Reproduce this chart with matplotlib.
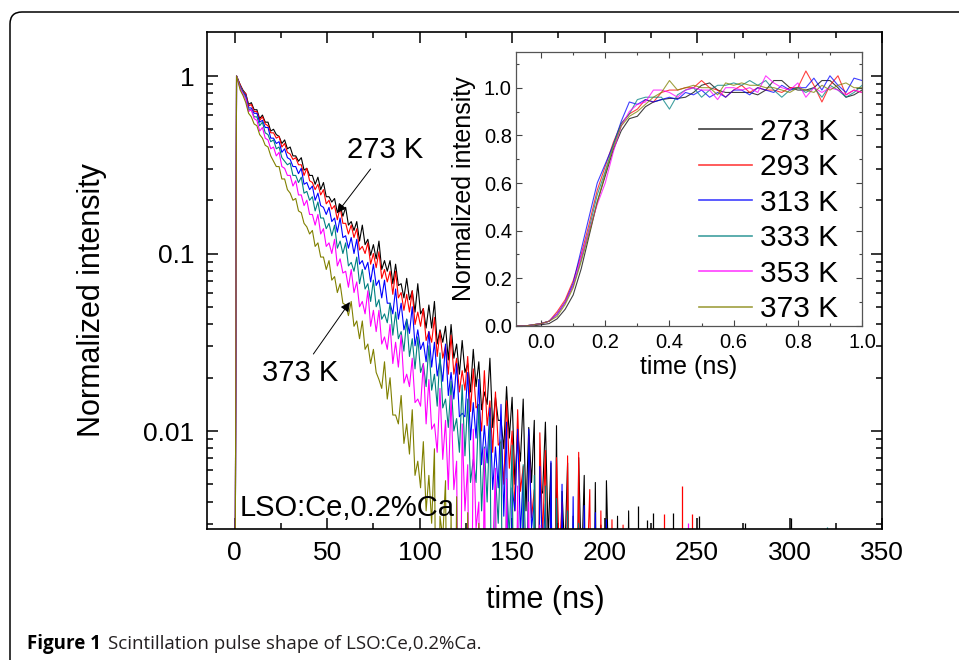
import numpy as np
import matplotlib
matplotlib.use("Agg")
from matplotlib import pyplot as plt
from matplotlib import ticker
from matplotlib.patches import FancyBboxPatch

plt.rcParams['font.family'] = ['Liberation Sans', 'DejaVu Sans']

# temperatures / colours of the six pulse shapes
labels = ['273 K', '293 K', '313 K', '333 K', '353 K', '373 K']
colors = ['#000000', '#ff0000', '#0000ff', '#008080', '#ff00ff', '#808000']

# main plot: time axis (ns) of the upper edge of each noisy trace
t_ns = [0, 1, 3, 6, 9, 12, 15, 18, 21, 24,
        27, 30, 33, 36, 39, 42, 45, 48, 51, 54,
        57, 60, 63, 66, 69, 72, 75, 78, 81, 84,
        87, 90, 93, 96, 99, 102, 105, 108, 111, 114,
        117, 120, 123, 126, 129, 132, 135, 138, 141, 144,
        147, 150, 153, 156, 159, 162, 165, 168, 171, 174,
        177, 180, 183, 186, 189, 192, 195, 198, 201, 204,
        207, 210, 213, 216, 219, 222, 225, 228, 231, 234, 237, 240]
# time axis (ns) of the lower edge of each noisy trace
t_lo = [4.5, 7.5, 10.5, 13.5, 16.5, 19.5, 22.5, 25.5, 28.5, 31.5,
        34.5, 37.5, 40.5, 43.5, 46.5, 49.5, 52.5, 55.5, 58.5, 61.5,
        64.5, 67.5, 70.5, 73.5, 76.5, 79.5, 82.5, 85.5, 88.5, 91.5,
        94.5, 97.5, 100.5, 103.5, 106.5, 109.5, 112.5, 115.5, 118.5, 121.5,
        124.5, 127.5, 130.5, 133.5, 136.5, 139.5, 142.5, 145.5, 148.5, 151.5,
        154.5, 157.5, 160.5, 163.5, 166.5, 169.5, 172.5, 175.5, 178.5, 181.5,
        184.5, 187.5, 190.5, 193.5, 196.5, 199.5, 202.5, 205.5, 208.5, 211.5,
        214.5, 217.5, 220.5, 223.5, 226.5, 229.5, 232.5, 235.5, 238.5]

# log10 of normalized intensity, upper side of the noise band (-4 = below axis)
up_273 = [-4, 0.0, -0.05, -0.10, -0.15, -0.19, -0.22, -0.26, -0.30, -0.34,
          -0.36, -0.40, -0.45, -0.46, -0.52, -0.56, -0.57, -0.60, -0.68, -0.69,
          -0.73, -0.74, -0.82, -0.82, -0.84, -0.92, -0.95, -0.93, -1.04, -1.04,
          -1.06, -1.17, -1.14, -1.21, -1.17, -1.31, -1.29, -1.27, -1.43, -1.41,
          -1.40, -1.51, -1.49, -1.62, -1.54, -1.61, -1.78, -1.59, -1.81, -1.94,
          -1.75, -1.81, -2.01, -1.82, -1.98, -1.94, -2.32, -1.95, -2.18, -1.97,
          -2.34, -2.18, -2.48, -2.15, -2.25, -2.61, -2.29, -2.53, -2.28, -2.69,
          -2.48, -4, -2.45, -4, -2.60, -4, -2.55, -4, -4, -2.56]
up_293 = [-4, 0.0, -0.05, -0.10, -0.16, -0.20, -0.23, -0.28, -0.32, -0.34,
          -0.38, -0.44, -0.46, -0.50, -0.52, -0.60, -0.61, -0.64, -0.70, -0.73,
          -0.74, -0.83, -0.84, -0.86, -0.96, -0.94, -1.00, -0.99, -1.09, -1.10,
          -1.10, -1.22, -1.23, -1.21, -1.33, -1.31, -1.44, -1.36, -1.44, -1.52,
          -1.46, -1.59, -1.66, -1.58, -1.65, -1.85, -1.66, -1.83, -1.78, -2.06,
          -1.83, -2.00, -1.88, -2.20, -2.03, -2.33, -2.01, -2.11, -2.48, -2.15,
          -2.40, -2.14, -2.57, -2.12, -2.58, -2.33, -4, -2.45, -4, -2.50,
          -4, -2.53, -4]
up_313 = [-4, 0.0, -0.06, -0.11, -0.18, -0.21, -0.25, -0.29, -0.35, -0.37,
          -0.41, -0.47, -0.51, -0.52, -0.60, -0.62, -0.66, -0.74, -0.74, -0.80,
          -0.80, -0.90, -0.91, -0.92, -1.04, -1.05, -1.06, -1.15, -1.15, -1.28,
          -1.20, -1.28, -1.37, -1.30, -1.43, -1.50, -1.44, -1.50, -1.60, -1.51,
          -1.67, -1.62, -1.90, -1.67, -1.84, -1.71, -1.97, -1.87, -2.09, -1.85,
          -1.95, -2.32, -1.99, -2.24, -1.99, -2.40, -2.20, -2.41, -2.17, -2.60,
          -2.30, -4, -2.37, -2.65, -2.42, -4, -2.46, -4, -2.50, -4,
          -4]
up_333 = [-4, 0.0, -0.06, -0.12, -0.19, -0.23, -0.26, -0.33, -0.36, -0.40,
          -0.48, -0.49, -0.56, -0.57, -0.65, -0.68, -0.71, -0.80, -0.83, -0.84,
          -0.93, -0.94, -1.05, -1.02, -1.09, -1.17, -1.15, -1.26, -1.34, -1.28,
          -1.33, -1.44, -1.37, -1.48, -1.47, -1.62, -1.52, -1.68, -1.56, -1.82,
          -1.72, -1.93, -1.74, -1.82, -2.16, -1.85, -2.09, -1.92, -2.25, -2.05,
          -2.27, -2.08, -2.45, -2.19, -4, -2.25, -2.55, -2.31, -4, -2.38,
          -4, -2.45, -4, -2.52, -4]
up_353 = [-4, 0.0, -0.07, -0.13, -0.19, -0.25, -0.29, -0.36, -0.40, -0.43,
          -0.52, -0.56, -0.59, -0.67, -0.70, -0.78, -0.78, -0.86, -0.94, -0.92,
          -1.03, -1.10, -1.09, -1.16, -1.27, -1.21, -1.32, -1.32, -1.47, -1.40,
          -1.50, -1.46, -1.68, -1.59, -1.82, -1.62, -1.71, -1.96, -1.76, -1.94,
          -1.80, -2.17, -1.96, -2.19, -1.99, -2.40, -2.10, -2.55, -2.21, -4,
          -2.27, -2.6, -2.31, -4, -2.40, -4, -2.53, -4]
up_373 = [-4, 0.0, -0.08, -0.15, -0.23, -0.28, -0.35, -0.40, -0.48, -0.51,
          -0.58, -0.66, -0.69, -0.77, -0.85, -0.87, -0.94, -1.02, -1.04, -1.13,
          -1.17, -1.29, -1.27, -1.38, -1.38, -1.51, -1.54, -1.71, -1.61, -1.70,
          -1.91, -1.80, -1.96, -1.88, -2.17, -2.06, -2.25, -2.10, -2.48, -2.28,
          -2.47, -2.37, -4, -2.46, -4, -2.52, -4]

# log10 of normalized intensity, lower side of the noise band
lo_273 = [-0.08, -0.16, -0.19, -0.24, -0.26, -0.31, -0.33, -0.38, -0.41, -0.45,
          -0.48, -0.53, -0.56, -0.61, -0.64, -0.68, -0.71, -0.77, -0.79, -0.84,
          -0.87, -0.93, -0.95, -1.01, -1.03, -1.09, -1.10, -1.17, -1.18, -1.25,
          -1.26, -1.33, -1.34, -1.42, -1.42, -1.51, -1.50, -1.60, -1.59, -1.68,
          -1.67, -1.78, -1.75, -1.88, -1.85, -1.98, -1.94, -2.10, -2.04, -2.30,
          -2.17, -2.45, -2.29, -4, -2.35, -2.60, -4, -4, -2.7, -4,
          -4, -2.8, -4, -4, -4, -4, -2.9, -4, -4, -4,
          -4, -4, -4, -4, -4, -4, -4]
lo_293 = [-0.085, -0.17, -0.20, -0.25, -0.27, -0.32, -0.35, -0.40, -0.43, -0.47,
          -0.50, -0.56, -0.59, -0.64, -0.67, -0.72, -0.75, -0.81, -0.83, -0.89,
          -0.91, -0.98, -1.00, -1.06, -1.08, -1.14, -1.16, -1.23, -1.25, -1.32,
          -1.33, -1.40, -1.41, -1.49, -1.50, -1.58, -1.59, -1.68, -1.68, -1.78,
          -1.77, -1.89, -1.87, -2.00, -1.97, -2.12, -2.08, -2.30, -2.21, -2.45,
          -2.34, -4, -2.49, -4, -2.6, -4, -4, -2.7, -4, -4,
          -4, -4, -2.8, -4, -4, -4, -4, -4, -4, -4]
lo_313 = [-0.09, -0.18, -0.21, -0.26, -0.29, -0.35, -0.38, -0.43, -0.46, -0.51,
          -0.55, -0.61, -0.64, -0.70, -0.73, -0.78, -0.82, -0.88, -0.91, -0.97,
          -1.00, -1.06, -1.09, -1.16, -1.18, -1.25, -1.28, -1.34, -1.37, -1.43,
          -1.45, -1.52, -1.54, -1.61, -1.64, -1.69, -1.72, -1.80, -1.82, -1.92,
          -1.92, -2.05, -2.04, -2.19, -2.18, -2.33, -2.32, -2.48, -4, -2.45,
          -2.58, -4, -2.55, -4, -2.7, -4, -4, -4, -4, -4,
          -4, -4, -4, -4, -4, -4, -4, -4]
lo_333 = [-0.09, -0.19, -0.23, -0.28, -0.32, -0.37, -0.41, -0.46, -0.50, -0.56,
          -0.60, -0.66, -0.70, -0.76, -0.80, -0.86, -0.90, -0.97, -1.00, -1.07,
          -1.10, -1.17, -1.20, -1.27, -1.30, -1.37, -1.39, -1.46, -1.48, -1.55,
          -1.58, -1.65, -1.67, -1.75, -1.77, -1.86, -1.87, -1.98, -2.00, -2.12,
          -2.14, -2.29, -2.29, -2.45, -2.40, -4, -2.52, -4, -2.6, -4,
          -4, -2.7, -4, -4, -4, -4, -4, -4, -4, -4,
          -4, -4]
lo_353 = [-0.10, -0.20, -0.24, -0.31, -0.35, -0.41, -0.45, -0.51, -0.56, -0.62,
          -0.67, -0.73, -0.78, -0.84, -0.89, -0.96, -1.00, -1.07, -1.11, -1.19,
          -1.22, -1.30, -1.34, -1.41, -1.44, -1.51, -1.54, -1.62, -1.64, -1.73,
          -1.75, -1.84, -1.86, -1.96, -1.99, -2.12, -2.16, -2.33, -2.33, -4,
          -2.45, -4, -2.55, -4, -4, -2.7, -4, -4, -4, -4,
          -4, -4, -4, -4, -4]
lo_373 = [-0.11, -0.21, -0.27, -0.33, -0.39, -0.45, -0.51, -0.58, -0.64, -0.70,
          -0.76, -0.83, -0.89, -0.96, -1.02, -1.09, -1.15, -1.22, -1.28, -1.35,
          -1.41, -1.48, -1.54, -1.62, -1.67, -1.76, -1.82, -1.91, -1.96, -2.07,
          -2.13, -2.25, -2.32, -2.45, -2.52, -4, -2.6, -4, -4, -4,
          -4, -4, -4, -4, -4]

upper_logs = [up_273, up_293, up_313, up_333, up_353, up_373]
lower_logs = [lo_273, lo_293, lo_313, lo_333, lo_353, lo_373]

# isolated late counts near the noise floor
spike_t = [218, 223, 226, 232, 237, 242, 245, 247, 251, 276, 301, 320]
spike_log = [-2.42, -2.50, -2.46, -2.47, -2.46, -2.31, -2.52, -2.47, -2.48, -2.52, -2.49, -2.54]
spike_col = ['#000000', '#000000', '#000000', '#ff0000', '#000000', '#ff0000',
             '#ff00ff', '#ff0000', '#000000', '#000000', '#000000', '#008080']

# inset: rising edge
t_rise = [-0.075, -0.05, -0.025, 0.0, 0.025, 0.05, 0.075, 0.1, 0.125, 0.15,
          0.175, 0.2, 0.225, 0.25, 0.275, 0.3, 0.325, 0.35, 0.375, 0.4,
          0.425, 0.45, 0.475, 0.5, 0.525, 0.55, 0.575, 0.6, 0.625, 0.65,
          0.675, 0.7, 0.725, 0.75, 0.775, 0.8, 0.825, 0.85, 0.875, 0.9,
          0.925, 0.95, 0.975, 1.0]
rise_273 = [0.0, 0.0, 0.0, 0.005, 0.01, 0.03, 0.07, 0.13, 0.24, 0.38,
            0.52, 0.63, 0.74, 0.82, 0.87, 0.88, 0.92, 0.94, 0.95, 0.955,
            0.955, 0.96, 0.98, 1.01, 1.02, 0.99, 0.98, 0.98, 0.98, 0.98,
            0.97, 0.99, 1.03, 1.03, 1.00, 0.99, 0.99, 1.00, 1.03, 1.03,
            1.00, 0.96, 0.97, 0.99]
rise_293 = [0.0, 0.0, 0.005, 0.01, 0.02, 0.06, 0.11, 0.19, 0.30, 0.43,
            0.57, 0.67, 0.77, 0.85, 0.89, 0.91, 0.95, 0.94, 0.98, 0.99,
            0.99, 1.00, 1.00, 1.03, 1.00, 0.99, 0.96, 0.99, 1.01, 0.98,
            1.00, 0.99, 0.99, 0.98, 1.00, 1.00, 1.07, 1.01, 0.94, 1.01,
            1.05, 0.97, 0.99, 0.98]
rise_313 = [0.0, 0.0, 0.005, 0.01, 0.02, 0.05, 0.10, 0.18, 0.32, 0.46,
            0.60, 0.68, 0.76, 0.86, 0.94, 0.93, 0.95, 0.94, 0.95, 0.96,
            0.95, 0.98, 0.97, 0.99, 0.96, 0.98, 0.96, 0.99, 0.99, 0.97,
            1.00, 0.99, 0.98, 1.01, 0.99, 1.00, 1.00, 1.04, 0.99, 1.05,
            1.01, 0.98, 1.04, 1.03]
rise_333 = [0.0, 0.0, 0.005, 0.01, 0.02, 0.05, 0.10, 0.17, 0.28, 0.41,
            0.55, 0.65, 0.76, 0.85, 0.89, 0.95, 0.96, 0.96, 0.96, 0.91,
            0.97, 0.99, 1.00, 0.96, 0.99, 1.01, 1.01, 1.02, 1.01, 1.03,
            1.01, 1.03, 0.99, 0.96, 0.99, 1.00, 0.98, 1.00, 0.96, 1.01,
            0.99, 0.96, 0.98, 1.01]
rise_353 = [0.0, 0.0, 0.005, 0.01, 0.02, 0.05, 0.10, 0.17, 0.29, 0.40,
            0.51, 0.60, 0.73, 0.84, 0.90, 0.93, 0.94, 0.99, 0.99, 0.98,
            0.96, 0.99, 1.00, 0.99, 0.99, 0.95, 1.00, 1.00, 0.99, 1.00,
            0.98, 1.05, 1.02, 1.00, 0.99, 1.02, 0.96, 1.00, 0.98, 1.00,
            0.99, 0.97, 0.99, 0.98]
rise_373 = [0.0, 0.0, 0.005, 0.01, 0.02, 0.04, 0.09, 0.16, 0.27, 0.39,
            0.52, 0.64, 0.75, 0.84, 0.88, 0.90, 0.93, 0.96, 0.98, 1.03,
            0.99, 1.00, 1.01, 1.00, 1.00, 0.97, 1.02, 1.01, 1.02, 1.01,
            1.01, 1.00, 1.00, 0.99, 0.98, 1.00, 0.99, 0.98, 1.01, 0.99,
            1.01, 1.02, 1.00, 1.00]
rise_curves = [rise_273, rise_293, rise_313, rise_333, rise_353, rise_373]


# interleave upper and lower edge samples into one noisy trace
def noisy_trace(up, lo):
    tt = np.concatenate([np.array(t_ns[:len(up)], float), np.array(t_lo[:len(lo)], float)])
    vv = np.concatenate([np.array(up, float), np.array(lo, float)])
    order = np.argsort(tt, kind='stable')
    return tt[order], 10 ** vv[order]


fig = plt.figure(figsize=(9.59, 6.6), dpi=100)

# rounded frame around the figure (cut off at right and bottom)
frame = FancyBboxPatch((0.10, -0.5), 10.0, 6.98, boxstyle="round,pad=0,rounding_size=0.12",
                       transform=fig.dpi_scale_trans, fc='none', ec='black', lw=1.1)
fig.add_artist(frame)

# ---- main decay plot
ax = fig.add_axes([0.2158, 0.1985, 0.7039, 0.7530])
for up, lo, c in zip(upper_logs, lower_logs, colors):
    tt, vv = noisy_trace(up, lo)
    ax.plot(tt, vv, color=c, lw=0.8)
ax.vlines(spike_t, 1e-4, 10 ** np.array(spike_log), colors=spike_col, lw=0.9)

ax.set_yscale('log')
ax.set_xlim(-15, 350)
ax.set_ylim(0.002805, 1.77)
ax.xaxis.set_major_locator(ticker.MultipleLocator(50))
ax.xaxis.set_minor_locator(ticker.MultipleLocator(25))
ax.yaxis.set_major_locator(ticker.FixedLocator([0.01, 0.1, 1]))
ax.yaxis.set_major_formatter(ticker.FixedFormatter(['0.01', '0.1', '1']))
ax.yaxis.set_minor_locator(ticker.LogLocator(base=10, subs=np.arange(2, 10)))
ax.yaxis.set_minor_formatter(ticker.NullFormatter())
ax.tick_params(which='both', direction='in', top=True, right=True, width=1.1)
ax.tick_params(which='major', length=8, labelsize=19, pad=9)
ax.tick_params(which='minor', length=4.3)
for s in ax.spines.values():
    s.set_linewidth(1.2)

ax.annotate('273 K', xy=(55.3, 0.169), xytext=(81.3, 0.383), fontsize=21,
            ha='center', va='center',
            arrowprops=dict(arrowstyle='-|>', color='black', lw=0.7,
                            mutation_scale=14, shrinkA=2, shrinkB=0))
ax.annotate('373 K', xy=(62.3, 0.0533), xytext=(35.3, 0.0212), fontsize=21,
            ha='center', va='center',
            arrowprops=dict(arrowstyle='-|>', color='black', lw=0.7,
                            mutation_scale=14, shrinkA=2, shrinkB=0))
ax.text(2.9, 0.00368, 'LSO:Ce,0.2%Ca', fontsize=21, ha='left', va='center')

fig.text(92 / 959, 1 - 300 / 660, 'Normalized intensity', rotation=90,
         fontsize=22, ha='center', va='center')
fig.text(545 / 959, 1 - 600 / 660, 'time (ns)', fontsize=22, ha='center', va='center')

# ---- inset: rising edge
axi = fig.add_axes([0.5381, 0.5061, 0.3608, 0.4152])
for yv, c, lab in zip(rise_curves, colors, labels):
    axi.plot(t_rise, yv, color=c, lw=0.8, alpha=0.75, label=lab)
axi.set_xlim(-0.078, 1.0)
axi.set_ylim(0.0, 1.15)
axi.xaxis.set_major_locator(ticker.MultipleLocator(0.2))
axi.xaxis.set_minor_locator(ticker.MultipleLocator(0.1))
axi.yaxis.set_major_locator(ticker.MultipleLocator(0.2))
axi.yaxis.set_minor_locator(ticker.MultipleLocator(0.1))
axi.xaxis.set_major_formatter(ticker.FormatStrFormatter('%.1f'))
axi.yaxis.set_major_formatter(ticker.FormatStrFormatter('%.1f'))
axi.tick_params(which='both', direction='in', top=True, right=True, width=0.8,
                color='#444444')
axi.tick_params(which='major', length=4, labelsize=14.5, pad=3)
axi.tick_params(which='minor', length=2.5)
axi.tick_params(axis='x', which='major', pad=5)
for s in axi.spines.values():
    s.set_linewidth(0.9)
    s.set_color('#555555')
axi.set_xlabel('time (ns)', fontsize=18, labelpad=2)
axi.set_ylabel('Normalized intensity', fontsize=18, labelpad=6)

leg = axi.legend(loc='upper right', bbox_to_anchor=(0.93, 0.76), frameon=False,
                 fontsize=21.5, handlelength=1.77, handletextpad=0.27,
                 labelspacing=0.25, borderpad=0, borderaxespad=0)
for line in leg.get_lines():
    line.set_linewidth(1.2)

# ---- caption
cap1 = fig.text(27 / 959, 1 - 644 / 660, 'Figure 1', fontsize=13.5, fontweight='bold',
                family='Open Sans', va='center', ha='left')
fig.canvas.draw()
bb = cap1.get_window_extent()
fig.text((bb.x1 + 7) / 959, 1 - 644 / 660, 'Scintillation pulse shape of LSO:Ce,0.2%Ca.',
         fontsize=13.5, family='Open Sans', va='center', ha='left', color='#231f20')

fig.savefig('out.png', dpi=100)
